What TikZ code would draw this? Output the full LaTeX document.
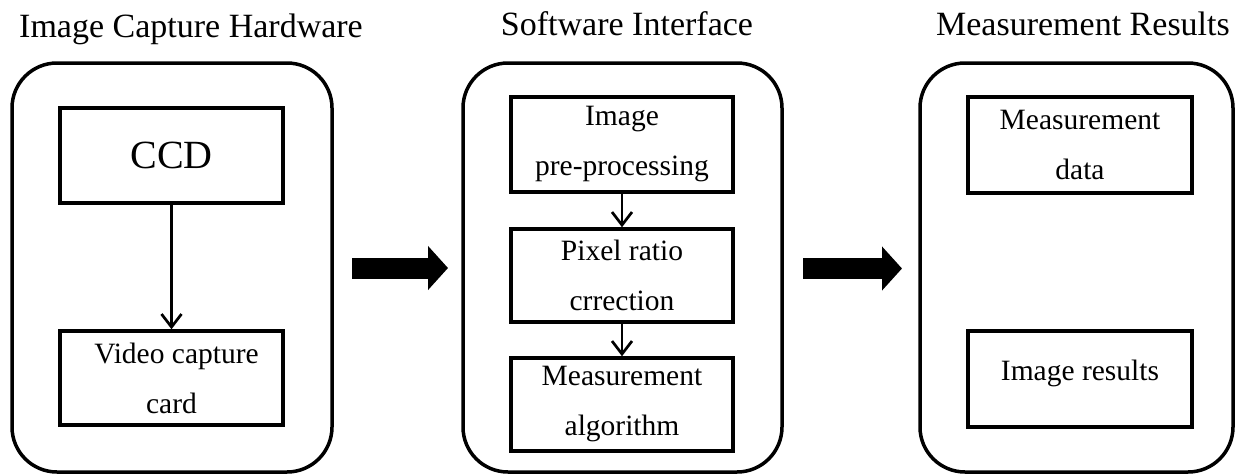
\documentclass[tikz,border=0pt]{standalone}
\usepackage{fontspec}
\setmainfont{Liberation Serif}
\usetikzlibrary{arrows.meta}
\tikzset{
  panel/.style={draw, line width=3.5pt, rounded corners=45pt, inner sep=0pt},
  boxnode/.style={draw, line width=3.5pt, inner sep=0pt, align=center,
     font=\fontsize{29.5}{50}\selectfont},
  ttl/.style={anchor=base, inner sep=0pt, font=\fontsize{34}{40}\selectfont},
  smallarrow/.style={line width=2.7pt, -{Straight Barb[length=13pt,width=20pt]}},
  bigarrow/.style={line width=21pt, -{Triangle[length=20pt,width=43pt]}}
}
\begin{document}
\begin{tikzpicture}[x=1pt,y=-1pt]
\useasboundingbox (0,0) rectangle (1235,474);
% titles
\node[ttl] (t1) at (191,37) {Image Capture Hardware};
\node[ttl] (t2) at (627,35) {Software Interface};
\node[ttl] (t3) at (1083,35) {Measurement Results};
% panels
\node[panel, minimum width=320pt, minimum height=409pt] (p1) at (172,267.5) {};
\node[panel, minimum width=319pt, minimum height=409pt] (p2) at (622.5,267.5) {};
\node[panel, minimum width=313pt, minimum height=409pt] (p3) at (1076.5,267.5) {};
% left boxes
\node[boxnode, minimum width=223pt, minimum height=95pt, font=\fontsize{40}{48}\selectfont] (ccd) at (171.5,155.5) {CCD};
\node[boxnode, minimum width=223pt, minimum height=94pt] (vid) at (171.5,378) {\hspace*{10pt}Video capture\\card};
% middle boxes
\node[boxnode, minimum width=222pt, minimum height=95pt] (pre) at (622,144.5) {Image\\pre-processing};
\node[boxnode, minimum width=222pt, minimum height=93pt] (pix) at (622,275.5) {Pixel ratio\\crrection};
\node[boxnode, minimum width=222pt, minimum height=93pt, yshift=-3pt] (alg) at (622,401.5) {Measurement\\algorithm};
% right boxes
\node[boxnode, minimum width=224pt, minimum height=96pt] (mdat) at (1080,145) {Measurement\\data};
\node[boxnode, minimum width=224pt, minimum height=96pt, text depth=18pt] (ires) at (1080,379) {Image results};
% small arrows
\draw[smallarrow] (ccd) -- (vid);
\draw[smallarrow] (pre) -- (pix);
\draw[smallarrow] (pix) -- (alg);
% big arrows
\coordinate (a1s) at (352,268);
\coordinate (a1e) at (448,268);
\coordinate (a2s) at (803,268.5);
\coordinate (a2e) at (902,268.5);
\draw[bigarrow] (a1s) -- (a1e);
\draw[bigarrow] (a2s) -- (a2e);
\end{tikzpicture}
\end{document}
